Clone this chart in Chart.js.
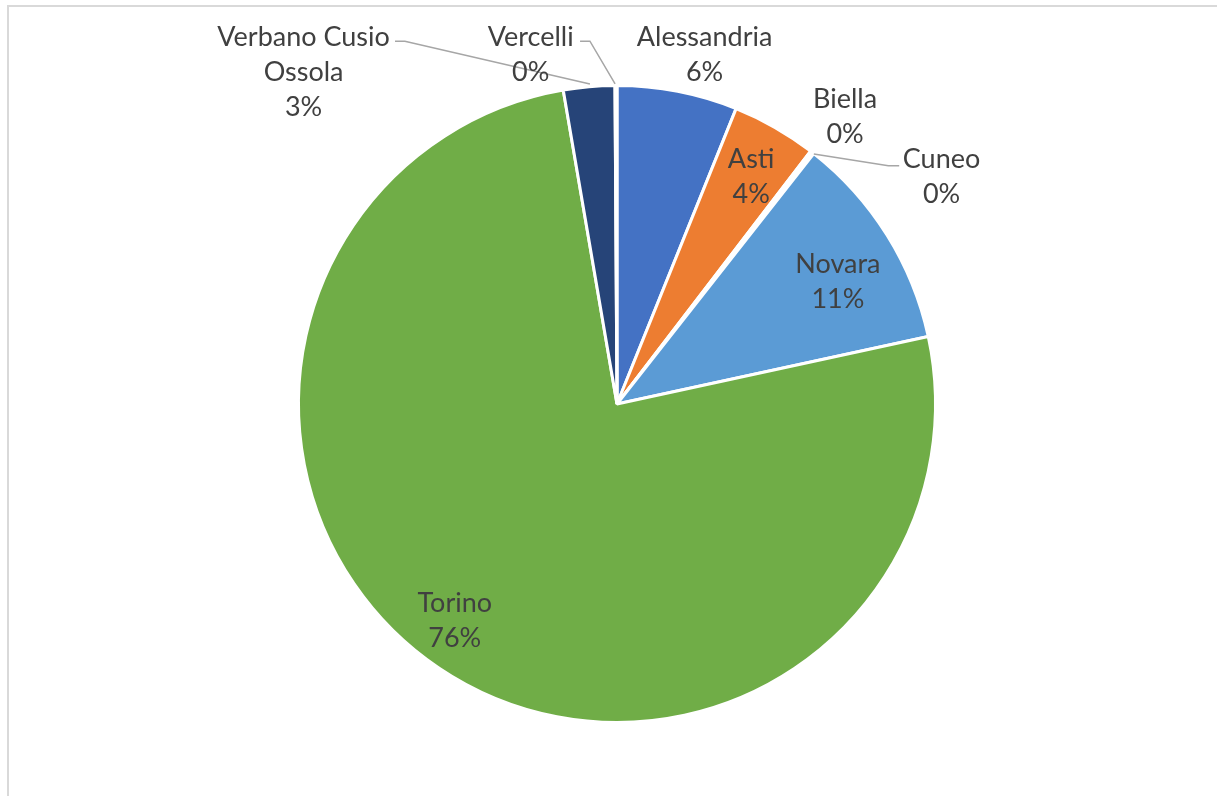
<!DOCTYPE html>
<html>
<head>
<meta charset="utf-8">
<script src="https://cdn.jsdelivr.net/npm/chart.js@4.4.1/dist/chart.umd.min.js"></script>
<style>
  html, body { margin: 0; padding: 0; background: #fff; }
  #wrap { position: relative; width: 1217px; height: 796px; }
  #frame { position: absolute; left: 7px; top: 5px; right: -2px; bottom: -2px; border: 2px solid #d9d9d9; }
</style>
</head>
<body>
<div id="wrap">
  <div id="frame"></div>
  <canvas id="pieChart" width="1217" height="796"></canvas>
</div>
<script>
// Piemonte provinces, share of total
const provinces = ['Alessandria', 'Asti', 'Biella', 'Cuneo', 'Novara', 'Torino', 'Verbano Cusio Ossola', 'Vercelli'];
const shares = [6.1, 4.3, 0.1, 0.1, 11.0, 75.7, 2.6, 0.1];
const sliceColors = ['#4472C4', '#ED7D31', '#A5A5A5', '#FFC000', '#5B9BD5', '#70AD47', '#264478', '#9E480E'];
// how each label is written (lines)
const labelLines = [['Alessandria'], ['Asti'], ['Biella'], ['Cuneo'], ['Novara'], ['Torino'], ['Verbano Cusio', 'Ossola'], ['Vercelli']];

// outside labels: centre of text block as [dx, dy] in radius units from the pie centre
const outside = {
  0: { at: [0.275, -1.107] },
  2: { at: [0.716, -0.912] },
  3: { at: [1.019, -0.722], leader: [[0.618, -0.785], [0.852, -0.748], [0.886, -0.748]] },
  6: { at: [-0.984, -1.050], leader: [[-0.085, -1.005], [-0.666, -1.139], [-0.697, -1.139]] },
  7: { at: [-0.271, -1.107], leader: [[-0.006, -1.005], [-0.085, -1.139], [-0.116, -1.139]] }
};
// small nudges for labels placed inside their slice, radius units
const insideNudge = { 1: [0.01, 0.0], 4: [-0.01, 0.05], 5: [-0.045, -0.015] };

const total = shares.reduce((a, b) => a + b, 0);

const labelPlugin = {
  id: 'sliceLabels',
  afterDatasetsDraw(chart) {
    const ctx = chart.ctx;
    const arcs = chart.getDatasetMeta(0).data;
    ctx.save();
    ctx.font = '27px Lato, "Open Sans", sans-serif';
    ctx.fillStyle = '#404040';
    ctx.textAlign = 'center';
    ctx.textBaseline = 'middle';
    const lineH = 35;
    arcs.forEach((arc, i) => {
      const { x, y, startAngle, endAngle, outerRadius } = arc.getProps(['x', 'y', 'startAngle', 'endAngle', 'outerRadius'], true);
      const lines = labelLines[i].concat([Math.round(shares[i] / total * 100) + '%']);
      let cx, cy;
      const o = outside[i];
      if (o) {
        cx = x + o.at[0] * outerRadius;
        cy = y + o.at[1] * outerRadius + 3;
        if (o.leader) {
          ctx.strokeStyle = '#a6a6a6';
          ctx.lineWidth = 1.5;
          ctx.beginPath();
          o.leader.forEach((p, k) => {
            const px = x + p[0] * outerRadius, py = y + p[1] * outerRadius;
            if (k === 0) ctx.moveTo(px, py); else ctx.lineTo(px, py);
          });
          ctx.stroke();
        }
      } else {
        const mid = (startAngle + endAngle) / 2;
        const r = outerRadius * 0.83;
        const n = insideNudge[i] || [0, 0];
        cx = x + Math.cos(mid) * r + n[0] * outerRadius;
        cy = y + Math.sin(mid) * r + n[1] * outerRadius + 2;
      }
      const top = cy - (lines.length - 1) * lineH / 2;
      lines.forEach((t, k) => ctx.fillText(t, cx, top + k * lineH));
    });
    ctx.restore();
  }
};

new Chart(document.getElementById('pieChart').getContext('2d'), {
  type: 'pie',
  data: {
    labels: provinces,
    datasets: [{
      data: shares,
      backgroundColor: sliceColors,
      borderColor: '#ffffff',
      borderWidth: 3
    }]
  },
  options: {
    responsive: false,
    animation: false,
    layout: { padding: { left: 17, right: 0, top: 84, bottom: 72 } },
    plugins: {
      legend: { display: false },
      tooltip: { enabled: false }
    }
  },
  plugins: [labelPlugin]
});
</script>
</body>
</html>
